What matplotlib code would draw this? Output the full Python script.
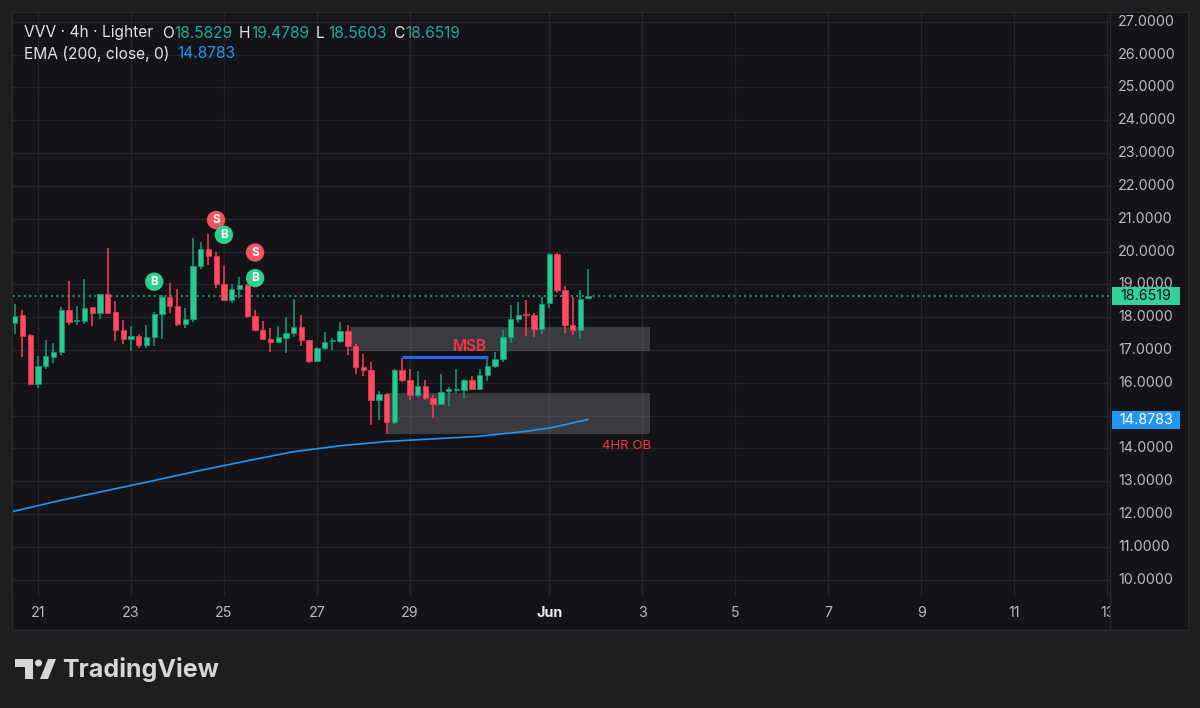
import numpy as np
import matplotlib.pyplot as plt
from matplotlib.patches import Rectangle, Polygon, Ellipse
from matplotlib.lines import Line2D
from matplotlib.transforms import blended_transform_factory

plt.rcParams['font.family'] = ['Inter', 'DejaVu Sans']

# VVV 4h candles, first bar May 20 12:00; x axis = day of month (Jun 1 = 32)
opens = [17.83, 18.05, 17.45, 15.97, 16.51, 16.80, 16.93, 18.21, 17.87, 17.87,
         18.30, 18.13, 18.70, 18.15, 17.62, 17.33, 17.42, 17.15, 17.40, 18.09,
         18.60, 18.33, 17.80, 17.94, 19.55, 20.09, 19.86, 19.02, 18.51, 18.85,
         18.97, 18.04, 17.60, 17.34, 17.24, 17.37, 17.53, 17.71, 17.30, 16.65,
         17.07, 17.27, 17.28, 17.59, 17.13, 16.49, 16.39, 15.48, 15.67, 14.80,
         16.38, 16.08, 15.64, 15.89, 15.55, 15.36, 15.75, 15.77, 15.79, 16.09,
         15.81, 16.23, 16.51, 16.71, 17.40, 17.93, 18.09, 18.06, 17.65, 18.42,
         19.92, 18.84, 17.76, 17.62, 18.5829]
highs = [18.39, 18.23, 17.48, 16.81, 17.30, 17.20, 18.30, 19.09, 18.34, 19.16,
         18.32, 18.72, 20.11, 18.49, 17.91, 17.73, 17.48, 17.77, 18.16, 18.66,
         19.04, 18.87, 18.29, 20.40, 20.29, 20.53, 20.00, 19.55, 19.00, 19.23,
         19.00, 18.23, 17.89, 17.68, 17.73, 17.99, 18.55, 18.05, 17.31, 17.10,
         17.56, 17.37, 17.86, 17.75, 17.19, 16.89, 16.62, 15.74, 15.68, 16.43,
         16.74, 16.41, 16.35, 16.09, 15.62, 16.28, 15.87, 16.41, 16.12, 16.21,
         16.43, 16.74, 16.93, 17.62, 18.37, 18.45, 18.52, 18.13, 18.62, 19.95,
         19.95, 18.95, 18.60, 18.82, 19.4789]
lows = [17.50, 16.79, 15.95, 15.84, 16.43, 16.61, 16.85, 17.76, 17.76, 17.79,
        17.73, 17.94, 18.09, 17.28, 17.19, 16.96, 17.05, 17.07, 17.11, 17.34,
        18.13, 17.73, 17.68, 17.85, 19.48, 19.59, 18.90, 18.49, 18.43, 18.57,
        17.98, 17.58, 17.32, 16.95, 17.20, 16.91, 17.40, 17.13, 16.61, 16.63,
        16.99, 16.99, 17.22, 16.86, 16.26, 16.20, 14.70, 14.85, 14.45, 14.75,
        16.02, 15.46, 15.57, 15.46, 14.92, 15.31, 15.29, 15.70, 15.55, 15.77,
        15.77, 16.05, 16.45, 16.64, 17.22, 17.81, 17.43, 17.40, 17.50, 18.27,
        18.75, 17.53, 17.47, 17.33, 18.5603]
closes = [18.03, 17.43, 15.97, 16.52, 16.81, 16.95, 18.21, 17.85, 17.91, 18.29,
          18.13, 18.70, 18.13, 17.60, 17.33, 17.42, 17.15, 17.40, 18.09, 18.62,
          18.33, 17.80, 17.94, 19.55, 20.09, 19.86, 19.02, 18.51, 18.85, 18.97,
          18.04, 17.60, 17.34, 17.24, 17.38, 17.53, 17.71, 17.30, 16.65, 17.06,
          17.25, 17.30, 17.59, 17.13, 16.48, 16.38, 15.48, 15.65, 14.80, 16.38,
          16.07, 15.64, 15.89, 15.53, 15.36, 15.72, 15.80, 15.80, 16.09, 15.81,
          16.23, 16.50, 16.71, 17.40, 17.93, 18.06, 18.06, 17.65, 18.40, 19.92,
          18.82, 17.76, 17.62, 18.54, 18.6519]
first_bar = 20.5
times = first_bar + np.arange(len(opens)) / 6.0

# EMA(200)
ema_days = [20.44, 21.5, 22.5, 23.5, 24.5, 25.5, 26.5, 27.5, 28.5, 29.5, 30.5, 31.5, 32.0, 32.83]
ema_vals = [12.07, 12.42, 12.72, 13.02, 13.33, 13.62, 13.90, 14.08, 14.21, 14.29, 14.37, 14.52, 14.62, 14.8783]

# buy / sell signals
sig_days = [23.5, 24.83, 25.0, 25.67, 25.67]
sig_prices = [19.08, 20.96, 20.51, 19.97, 19.19]
sig_labels = ['B', 'S', 'B', 'S', 'B']

# order blocks
zone_start = [27.71, 28.53]
zone_end = [34.16, 34.16]
zone_low = [16.96, 14.45]
zone_high = [17.69, 15.68]

msb_level = 16.77
msb_start = 28.83
msb_end = 30.68

last_price = 18.6519
ema_last = 14.8783

xtick_pos = [21, 23, 25, 27, 29, 32, 34, 36, 38, 40, 42, 44]
xtick_lab = ['21', '23', '25', '27', '29', 'Jun', '3', '5', '7', '9', '11', '13']
price_ticks = list(range(10, 28))

BG = '#1e1e1e'
PANEL = '#141418'
GRID = '#25252b'
GREEN = '#28c98f'
GREEN_W = '#179271'
RED = '#ff4b61'
TEAL = '#22ab94'
BLUE = '#2196f3'
TXT = '#dfe1e6'
AXTXT = '#b8bbc2'

W, H = 1200, 708
fig = plt.figure(figsize=(12, 7.08), dpi=100, facecolor=BG)


def fx(x):
    return x / W


def fy(y):
    return 1 - y / H


fig.patches.append(Rectangle((fx(12), fy(630)), fx(1188) - fx(12), fy(12) - fy(630),
                             transform=fig.transFigure, facecolor=PANEL,
                             edgecolor='#2a2a2f', lw=1, zorder=-1))

ax = fig.add_axes([fx(12.7), fy(597), fx(1110) - fx(12.7), fy(13) - fy(597)])
ax.set_facecolor(PANEL)
for s in ax.spines.values():
    s.set_visible(False)
ax.set_xlim(20.456, 44.06)
ax.set_ylim(9.47, 27.27)
ax.set_yticks(price_ticks)
ax.set_xticks(xtick_pos)
ax.set_xticklabels(xtick_lab)
ax.tick_params(left=False, labelleft=False, bottom=False, colors=AXTXT,
               labelsize=10.3, pad=3)
ax.grid(color=GRID, lw=1)
ax.set_axisbelow(True)
jun = ax.get_xticklabels()[5]
jun.set_fontweight('bold')
jun.set_color('#f0f0f0')

# zones
for x0, x1, lo, hi in zip(zone_start, zone_end, zone_low, zone_high):
    ax.add_patch(Rectangle((x0, lo), x1 - x0, hi - lo, facecolor='#787b86',
                           alpha=0.38, edgecolor='none', zorder=1))

# ema
ax.plot(ema_days, ema_vals, color=BLUE, lw=1.2, zorder=2)

# last price line
ax.axhline(last_price, color=TEAL, lw=1.3, ls=(0, (1, 2)), zorder=2)

# candles
bw = 0.115
for t, o, h, l, c in zip(times, opens, highs, lows, closes):
    up = c >= o
    body_c = GREEN if up else RED
    wick_c = GREEN_W if up else '#ef3a50'
    ax.vlines(t, l, h, color=wick_c, lw=1.2, zorder=3)
    hgt = c - o
    if abs(hgt) < 0.04:
        hgt = 0.04 if up else -0.04
    ax.bar(t, hgt, bottom=o, width=bw, color=body_c,
           edgecolor=GREEN_W if up else '#e23a50', lw=0.6, zorder=4)

# MSB
ax.hlines(msb_level, msb_start, msb_end, color='#2962ff', lw=2.2, zorder=5)
ax.text(30.29, 17.11, 'MSB', color='#f23645', fontsize=11, fontweight='semibold',
        ha='center', va='center', zorder=5)
ax.text(33.67, 14.06, '4HR OB', color='#f23645', fontsize=9.5, ha='center',
        va='center', zorder=5)

# signals
for d, p, lab in zip(sig_days, sig_prices, sig_labels):
    col = '#f7525f' if lab == 'S' else '#2ed08e'
    ax.scatter([d], [p], s=175, color=col, edgecolors='none', zorder=6)
    ax.text(d, p, lab, color='white', fontsize=8.5, fontweight='bold',
            ha='center', va='center', zorder=7)

# price scale
fig.patches.append(Rectangle((fx(1110), fy(629)), fx(1187.5) - fx(1110), fy(13) - fy(629),
                             transform=fig.transFigure, facecolor=PANEL,
                             edgecolor='none', zorder=1))
fig.lines.append(Line2D([fx(1110), fx(1110)], [fy(13), fy(629)],
                        transform=fig.transFigure, color='#2a2a2f', lw=1, zorder=1.5))
trans = blended_transform_factory(fig.transFigure, ax.transData)
for p in price_ticks:
    if p == 15:  # hidden under the EMA tag
        continue
    fig.text(fx(1118), p, f'{p:.4f}', transform=trans, color=AXTXT,
             fontsize=10.3, ha='left', va='center', zorder=2)

tag_h = 18 / 32.8
for val, fc, tc in [(last_price, '#34d19b', '#111111'), (ema_last, BLUE, 'white')]:
    fig.patches.append(Rectangle((fx(1112), val - tag_h / 2), fx(1180) - fx(1112), tag_h,
                                 transform=trans, facecolor=fc, edgecolor='none',
                                 zorder=3))
    fig.text(fx(1146), val, f'{val:.4f}', transform=trans, color=tc, fontsize=10.3,
             ha='center', va='center', zorder=4)

# header legend
fig.text(fx(24), fy(33), 'VVV · 4h · Lighter', color=TXT, fontsize=11.2, va='center')
ohlc = [('O', 162, opens[-1]), ('H', 239, highs[-1]), ('L', 316, lows[-1]), ('C', 393, closes[-1])]
for k, xp, v in ohlc:
    fig.text(fx(xp), fy(33), k, color=TXT, fontsize=11.2, va='center')
    fig.text(fx(xp + 12), fy(33), f'{v:.4f}', color=TEAL, fontsize=11.2, va='center')
fig.text(fx(24), fy(54), 'EMA (200, close, 0)', color=TXT, fontsize=11.2, va='center')
fig.text(fx(177), fy(54), f'{ema_last:.4f}', color=BLUE, fontsize=11.2, va='center')

# TradingView logo
LOGO = '#d6d6d6'
fig.patches.append(Polygon([(fx(15), fy(659)), (fx(33), fy(659)), (fx(33), fy(679)),
                            (fx(25), fy(679)), (fx(25), fy(667)), (fx(15), fy(667))],
                           closed=True, transform=fig.transFigure, facecolor=LOGO,
                           edgecolor='none'))
fig.patches.append(Ellipse((fx(38.5), fy(663)), 7 / W, 7 / H, transform=fig.transFigure,
                           facecolor=LOGO, edgecolor='none'))
fig.patches.append(Polygon([(fx(40), fy(679)), (fx(48), fy(679)), (fx(56), fy(659)),
                            (fx(48), fy(659))], closed=True, transform=fig.transFigure,
                           facecolor=LOGO, edgecolor='none'))
fig.text(fx(62), fy(669), 'TradingView', color=LOGO, fontsize=18, fontweight='bold',
         va='center')

fig.savefig('out.png', dpi=100, facecolor=BG)
